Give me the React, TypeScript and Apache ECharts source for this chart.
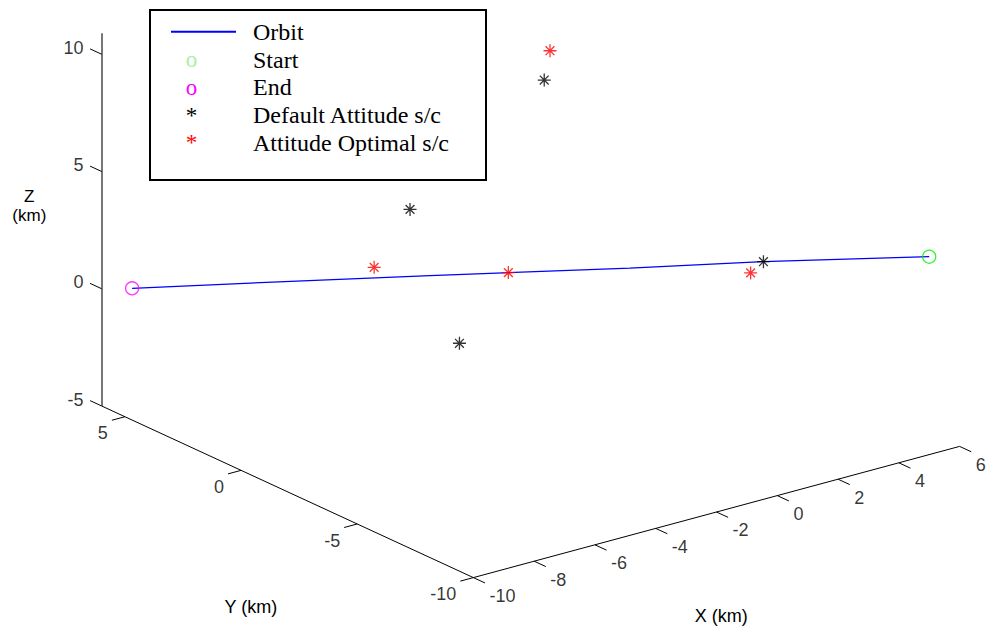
import React, { useEffect, useRef } from "react";
import * as echarts from "echarts";

// ---- data (km) ----
const orbitX = [-9.0, -6.64, -3.77, -0.26, 2.08, 5.0];
const orbitY = [6.0, 3.3, 0.02, -3.99, -6.66, -10.0];
const orbitZ = [-0.33, 0.33, 1.12, 2.04, 2.72, 3.44];
const startPoint = [5.0, -10.0, 3.44];
const endPoint = [-9.0, 6.0, -0.33];
const defaultX = [-1.76, -4.12, -3.25, 2.09];
const defaultY = [-2.27, 0.42, -0.57, -6.67];
const defaultZ = [9.8, 3.88, -1.68, 2.72];
const optimalX = [-0.11, -4.75, -2.39, 1.86];
const optimalY = [-0.36, 1.14, -1.55, -6.42];
const optimalZ = [9.6, 1.3, 1.48, 2.21];
const xTicks = [-10, -8, -6, -4, -2, 0, 2, 4, 6];
const yTicks = [-10, -5, 0, 5];
const zTicks = [-5, 0, 5, 10];
const xLim = [-10, 6];
const yLim = [-10, 6];
const zLim = [-5, 10.9];
const legendLabels = ["Orbit", "Start", "End", "Default Attitude s/c", "Attitude Optimal s/c"];

// ---- view (projection of 3-D axes box onto the page) ----
const ORIGIN = [101.7, 406]; // (xmin, ymax, zmin)
const EX = [30.39, -8.2]; // per +1 in x
const EY = [-23.23, -10.725]; // per +1 in y
const EZ = [0, -23.45]; // per +1 in z

function proj(x: number, y: number, z: number): number[] {
  const dx = x - xLim[0];
  const dy = y - yLim[1];
  const dz = z - zLim[0];
  return [
    ORIGIN[0] + dx * EX[0] + dy * EY[0] + dz * EZ[0],
    ORIGIN[1] + dx * EX[1] + dy * EY[1] + dz * EZ[1],
  ];
}

const SANS = "'Liberation Sans', Arial, sans-serif";
const SERIF = "'Liberation Serif', 'Times New Roman', serif";
const STAR = "path://M5,0L5,10M0,5L10,5M1.6,1.6L8.4,8.4M1.6,8.4L8.4,1.6";

export default function App() {
  const ref = useRef<HTMLDivElement>(null);
  useEffect(() => {
    if (!ref.current) return;
    const chart = echarts.init(ref.current, null, { renderer: "svg" });

    const axisLines = [
      { coords: [proj(xLim[0], yLim[0], zLim[0]), proj(xLim[1], yLim[0], zLim[0])] },
      { coords: [proj(xLim[0], yLim[1], zLim[0]), proj(xLim[0], yLim[0], zLim[0])] },
      {
        coords: [proj(xLim[0], yLim[1], zLim[0]), proj(xLim[0], yLim[1], zLim[1])],
        lineStyle: { color: "#555", width: 1.6 },
      },
    ];
    const tickLen = 0.5;
    const xTickEnd = (v: number) => proj(v, yLim[0] - tickLen, zLim[0]);
    const yTickEnd = (v: number) => proj(xLim[0] - 0.43, v, zLim[0]);
    const zTickEnd = (v: number) => proj(xLim[0], yLim[1] + tickLen, v);
    const tickLines = [
      ...xTicks.map((v) => ({ coords: [proj(v, yLim[0], zLim[0]), xTickEnd(v)] })),
      ...yTicks.map((v) => ({ coords: [proj(xLim[0], v, zLim[0]), yTickEnd(v)] })),
      ...zTicks.map((v) => ({ coords: [proj(xLim[0], yLim[1], v), zTickEnd(v)] })),
    ];

    const labelSeries = (data: any[], position: string, distance: number, offset: number[]) => ({
      type: "scatter",
      symbol: "circle",
      symbolSize: 1,
      itemStyle: { color: "rgba(0,0,0,0)" },
      silent: true,
      z: 5,
      label: {
        show: true,
        position,
        distance,
        offset,
        formatter: "{b}",
        color: "#000",
        fontFamily: SANS,
        fontSize: 18,
      },
      data,
    });

    const orbitData = orbitX.map((x, i) => proj(x, orbitY[i], orbitZ[i]));
    const defaultData = defaultX.map((x, i) => proj(x, defaultY[i], defaultZ[i]));
    const optimalData = optimalX.map((x, i) => proj(x, optimalY[i], optimalZ[i]));

    const legendRowsY = [31.7, 59.5, 87.2, 115, 142.7];

    chart.setOption({
      animation: false,
      backgroundColor: "#ffffff",
      grid: { left: 0, right: 0, top: 0, bottom: 0 },
      xAxis: { type: "value", min: 0, max: 987, show: false },
      yAxis: { type: "value", min: 0, max: 630, inverse: true, show: false },
      series: [
        {
          type: "lines",
          coordinateSystem: "cartesian2d",
          silent: true,
          lineStyle: { color: "#000", width: 1, opacity: 1 },
          data: [...axisLines, ...tickLines],
        },
        labelSeries(
          xTicks.map((v) => ({ value: xTickEnd(v), name: String(v) })),
          "right",
          4,
          [0, 13]
        ),
        labelSeries(
          yTicks.map((v) => ({ value: yTickEnd(v), name: String(v) })),
          "left",
          3.5,
          [0, 13]
        ),
        labelSeries(
          zTicks.map((v) => ({ value: zTickEnd(v), name: String(v) })),
          "left",
          6,
          [0, -1]
        ),
        {
          type: "line",
          name: "Orbit",
          data: orbitData,
          symbol: "none",
          lineStyle: { color: "#0000ff", width: 1.3 },
          z: 3,
        },
        {
          type: "scatter",
          name: "Start",
          data: [proj(startPoint[0], startPoint[1], startPoint[2])],
          symbol: "circle",
          symbolSize: 13,
          itemStyle: { color: "rgba(0,0,0,0)", borderColor: "#00ee00", borderWidth: 1.3 },
          z: 4,
        },
        {
          type: "scatter",
          name: "End",
          data: [proj(endPoint[0], endPoint[1], endPoint[2])],
          symbol: "circle",
          symbolSize: 13,
          itemStyle: { color: "rgba(0,0,0,0)", borderColor: "#ff00ff", borderWidth: 1.3 },
          z: 4,
        },
        {
          type: "scatter",
          name: "Default Attitude s/c",
          data: defaultData,
          symbol: STAR,
          symbolSize: 13,
          itemStyle: { color: "rgba(0,0,0,0)", borderColor: "#000000", borderWidth: 1.3 },
          z: 4,
        },
        {
          type: "scatter",
          name: "Attitude Optimal s/c",
          data: optimalData,
          symbol: STAR,
          symbolSize: 13,
          itemStyle: { color: "rgba(0,0,0,0)", borderColor: "#ff0000", borderWidth: 1.3 },
          z: 4,
        },
      ],
      graphic: [
        {
          type: "text",
          x: 250.8,
          y: 606.7,
          style: { text: "Y (km)", font: `18px ${SANS}`, fill: "#000", align: "center", verticalAlign: "middle" },
        },
        {
          type: "text",
          x: 721.3,
          y: 616,
          style: { text: "X (km)", font: `18px ${SANS}`, fill: "#000", align: "center", verticalAlign: "middle" },
        },
        {
          type: "text",
          x: 29.3,
          y: 196.7,
          style: { text: "Z", font: `17px ${SANS}`, fill: "#000", align: "center", verticalAlign: "middle" },
        },
        {
          type: "text",
          x: 29.3,
          y: 215,
          style: { text: "(km)", font: `17px ${SANS}`, fill: "#000", align: "center", verticalAlign: "middle" },
        },
        {
          type: "group",
          z: 100,
          children: [
            {
              type: "rect",
              shape: { x: 150, y: 10, width: 336, height: 170 },
              style: { fill: "#ffffff", stroke: "#000000", lineWidth: 2 },
            },
            {
              type: "line",
              shape: { x1: 171, y1: legendRowsY[0], x2: 236, y2: legendRowsY[0] },
              style: { stroke: "#0000ff", lineWidth: 2 },
            },
            {
              type: "text",
              x: 191.5,
              y: legendRowsY[1],
              style: { text: "o", font: `23px ${SERIF}`, fill: "#a6f0a6", align: "center", verticalAlign: "middle" },
            },
            {
              type: "text",
              x: 191.5,
              y: legendRowsY[2],
              style: { text: "o", font: `23px ${SERIF}`, fill: "#ff00ff", align: "center", verticalAlign: "middle" },
            },
            {
              type: "text",
              x: 191.5,
              y: legendRowsY[3],
              style: { text: "*", font: `23px ${SERIF}`, fill: "#000000", align: "center", verticalAlign: "middle" },
            },
            {
              type: "text",
              x: 191.5,
              y: legendRowsY[4],
              style: { text: "*", font: `23px ${SERIF}`, fill: "#ff0000", align: "center", verticalAlign: "middle" },
            },
            ...legendLabels.map((t, i) => ({
              type: "text",
              x: 253,
              y: legendRowsY[i],
              style: { text: t, font: `24px ${SERIF}`, fill: "#000", align: "left", verticalAlign: "middle" },
            })),
          ],
        },
      ],
    });
    return () => chart.dispose();
  }, []);
  return (
    <div
      ref={ref}
      style={{ position: "absolute", left: 0, top: 0, width: 987, height: 630 }}
    />
  );
}
